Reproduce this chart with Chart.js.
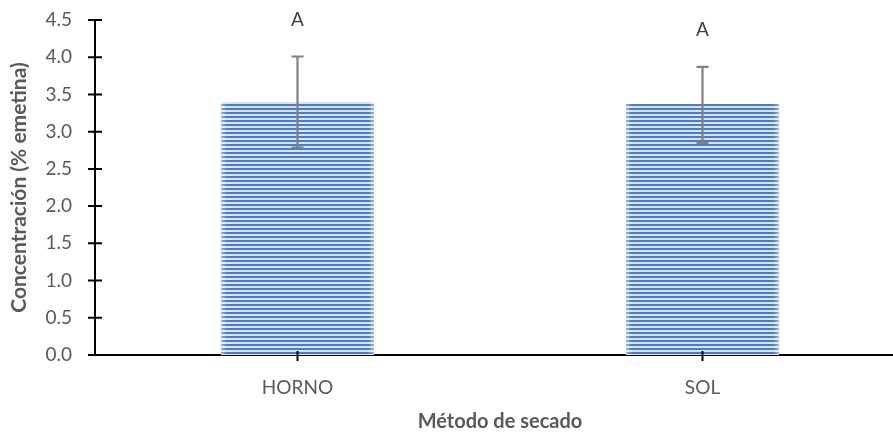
<!DOCTYPE html>
<html>
<head>
<meta charset="utf-8">
<script src="https://cdn.jsdelivr.net/npm/chart.js@4.4.1/dist/chart.umd.min.js"></script>
<style>
html,body{margin:0;padding:0;background:#fff;overflow:hidden;width:893px;height:432px;}
#wrap{width:905px;height:432px;}
</style>
</head>
<body>
<div id="wrap"><canvas id="c" width="905" height="432" style="width:905px;height:432px"></canvas></div>
<script>
const categories = ['HORNO', 'SOL'];
const means = [3.40, 3.37];
const errLow = [2.785, 2.85];
const errHigh = [4.01, 3.87];
const letters = ['A', 'A'];
const yTicks = [0, 0.5, 1, 1.5, 2, 2.5, 3, 3.5, 4, 4.5];

const FONT = 'Lato, "Open Sans", sans-serif';

function stripePattern() {
  const p = document.createElement('canvas');
  p.width = 4; p.height = 4;
  const g = p.getContext('2d');
  g.fillStyle = '#d8e2ef';
  g.fillRect(0, 0, 4, 4);
  g.fillStyle = '#4a7dc0';
  g.fillRect(0, 0, 4, 2);
  return g.createPattern(p, 'repeat');
}

const overlay = {
  id: 'overlay',
  afterDatasetsDraw(chart) {
    const ctx = chart.ctx;
    const x = chart.scales.x, y = chart.scales.y;
    ctx.save();
    const meta = chart.getDatasetMeta(0);
    meta.data.forEach(bar => {
      const w = bar.width, l = bar.x - w / 2, r = bar.x + w / 2;
      const top = bar.y, bot = bar.base;
      let gl = ctx.createLinearGradient(l, 0, l + 6, 0);
      gl.addColorStop(0, 'rgba(255,255,255,0.45)');
      gl.addColorStop(1, 'rgba(255,255,255,0)');
      ctx.fillStyle = gl; ctx.fillRect(l, top, 6, bot - top);
      let gr = ctx.createLinearGradient(r - 6, 0, r, 0);
      gr.addColorStop(0, 'rgba(255,255,255,0)');
      gr.addColorStop(1, 'rgba(255,255,255,0.45)');
      ctx.fillStyle = gr; ctx.fillRect(r - 6, top, 6, bot - top);
    });
    ctx.strokeStyle = '#808080';
    ctx.lineWidth = 2.2;
    categories.forEach((c, i) => {
      const cx = x.getPixelForValue(i);
      const yl = y.getPixelForValue(errLow[i]);
      const yh = y.getPixelForValue(errHigh[i]);
      ctx.beginPath();
      ctx.moveTo(cx, yl); ctx.lineTo(cx, yh);
      ctx.moveTo(cx - 6, yl); ctx.lineTo(cx + 6, yl);
      ctx.moveTo(cx - 6, yh); ctx.lineTo(cx + 6, yh);
      ctx.stroke();
      ctx.fillStyle = '#404040';
      ctx.font = '19px ' + FONT;
      ctx.textAlign = 'center';
      ctx.textBaseline = 'middle';
      ctx.fillText(letters[i], cx, yh - 37);
    });
    ctx.strokeStyle = '#000';
    ctx.lineWidth = 2;
    ctx.beginPath();
    yTicks.forEach(v => {
      const py = y.getPixelForValue(v);
      ctx.moveTo(x.left - 7, py); ctx.lineTo(x.left + 7, py);
    });
    categories.forEach((c, i) => {
      const px = x.getPixelForValue(i);
      ctx.moveTo(px, y.bottom - 4); ctx.lineTo(px, y.bottom + 6);
    });
    ctx.stroke();
    ctx.restore();
  }
};

new Chart(document.getElementById('c'), {
  type: 'bar',
  data: {
    labels: categories,
    datasets: [{
      data: means,
      backgroundColor: stripePattern(),
      borderWidth: 0,
      barPercentage: 0.378,
      categoryPercentage: 1
    }]
  },
  options: {
    responsive: false,
    animation: false,
    devicePixelRatio: 1,
    layout: { padding: { top: 20, left: 0, right: 0, bottom: 0 } },
    plugins: { legend: { display: false }, tooltip: { enabled: false } },
    scales: {
      x: {
        grid: { display: false, drawTicks: false },
        border: { display: true, color: '#000', width: 2 },
        ticks: { color: '#595959', font: { family: FONT, size: 19 }, padding: 21 },
        title: { display: true, text: 'Método de secado', color: '#595959',
                 font: { family: FONT, size: 20, weight: 'bold', lineHeight: 1 }, padding: { top: 0, bottom: 0 } },
        afterFit(s) { s.height = 77; s.paddingLeft = 0; s.paddingRight = 0; }
      },
      y: {
        min: 0, max: 4.5,
        afterBuildTicks(s) { s.ticks = yTicks.map(v => ({ value: v })); },
        grid: { display: false, drawTicks: false },
        border: { display: true, color: '#000', width: 2 },
        ticks: { color: '#595959', font: { family: FONT, size: 19 }, padding: 23,
                 callback: v => Number(v).toFixed(1) },
        title: { display: true, text: 'Concentración (% emetina)', color: '#595959',
                 font: { family: FONT, size: 21, weight: 'bold' }, padding: { top: 7, bottom: 0 } },
        afterFit(s) { s.width = 95; s.paddingTop = 0; s.paddingBottom = 0; }
      }
    }
  },
  plugins: [overlay]
});
</script>
</body>
</html>
